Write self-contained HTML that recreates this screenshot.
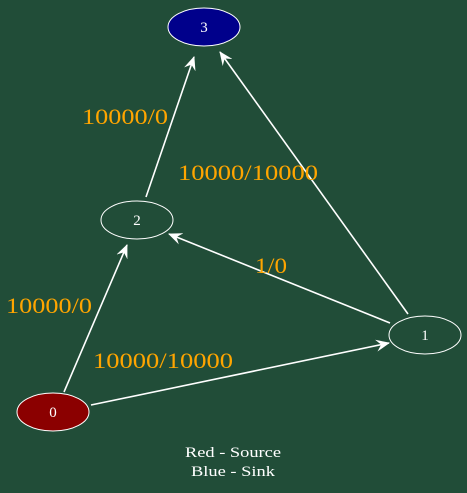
<!DOCTYPE html>
<html><head><meta charset="utf-8"><style>
html,body{margin:0;padding:0;background:#214d38;}
svg{display:block;}
</style></head><body>
<svg width="467" height="493" viewBox="0 0 467 493" xmlns="http://www.w3.org/2000/svg">
<defs>
<marker id="v" markerUnits="userSpaceOnUse" markerWidth="14" markerHeight="12" refX="13" refY="6" orient="auto">
<path d="M0,0 L14,6 L0,12 L5,6 z" fill="#fff"/>
</marker>
</defs>
<rect width="467" height="493" fill="#214d38"/>
<g stroke="#fff" stroke-width="1.6" fill="none">
<line x1="146" y1="197" x2="194" y2="57" marker-end="url(#v)"/>
<line x1="408" y1="314" x2="220" y2="52" marker-end="url(#v)"/>
<line x1="390" y1="323" x2="169" y2="234" marker-end="url(#v)"/>
<line x1="64" y1="392" x2="127" y2="245" marker-end="url(#v)"/>
<line x1="91" y1="405" x2="389" y2="343" marker-end="url(#v)"/>
</g>
<ellipse cx="204" cy="27" rx="36" ry="19" fill="#00008b" stroke="#fff" stroke-width="1"/>
<ellipse cx="137" cy="220" rx="36" ry="19" fill="none" stroke="#fff" stroke-width="1"/>
<ellipse cx="425" cy="335" rx="36" ry="19" fill="none" stroke="#fff" stroke-width="1"/>
<ellipse cx="53" cy="412" rx="36" ry="19" fill="#8b0000" stroke="#fff" stroke-width="1"/>
<g font-family="Liberation Serif, serif" font-size="15" fill="#fff">
<text x="204" y="32" text-anchor="middle">3</text>
<text x="137" y="225" text-anchor="middle">2</text>
<text x="425" y="340" text-anchor="middle">1</text>
<text x="53" y="417" text-anchor="middle">0</text>
<text x="185" y="457" textLength="96" lengthAdjust="spacingAndGlyphs">Red - Source</text>
<text x="191" y="476" textLength="84" lengthAdjust="spacingAndGlyphs">Blue - Sink</text>
</g>
<g font-family="Liberation Serif, serif" font-size="22" fill="#ffa500" lengthAdjust="spacingAndGlyphs">
<text x="82" y="124" textLength="86" lengthAdjust="spacingAndGlyphs">10000/0</text>
<text x="178" y="180" textLength="140" lengthAdjust="spacingAndGlyphs">10000/10000</text>
<text x="255" y="273" textLength="32" lengthAdjust="spacingAndGlyphs">1/0</text>
<text x="6" y="313" textLength="86" lengthAdjust="spacingAndGlyphs">10000/0</text>
<text x="93" y="368" textLength="140" lengthAdjust="spacingAndGlyphs">10000/10000</text>
</g>
</svg>
</body></html>
